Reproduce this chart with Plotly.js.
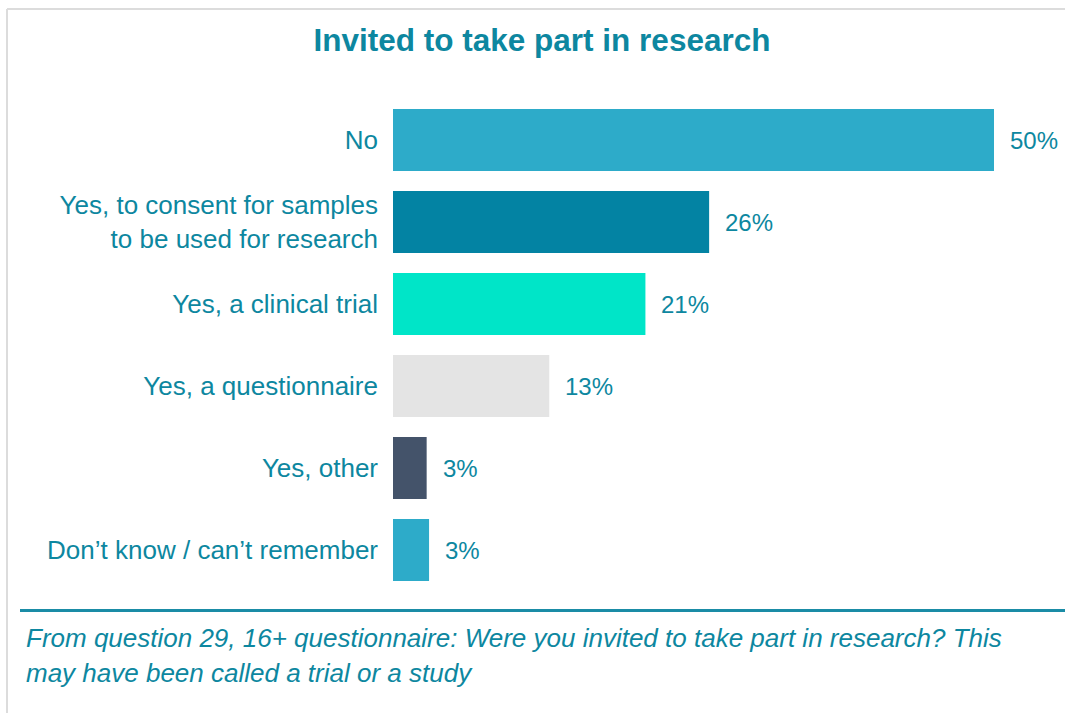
<!DOCTYPE html>
<html>
<head>
<meta charset="utf-8">
<script src="https://cdn.plot.ly/plotly-3.0.1.min.js"></script>
<style>
  html, body { margin: 0; padding: 0; background: #ffffff; }
  #chart { width: 1065px; height: 713px; }
</style>
</head>
<body>
<div id="chart"></div>
<script>
// ---- data ----
const categories = [
  "No",
  "Yes, to consent for samples<br>to be used for research",
  "Yes, a clinical trial",
  "Yes, a questionnaire",
  "Yes, other",
  "Don\u2019t know / can\u2019t remember"
];
const values = [50, 26.3, 21, 13, 2.8, 3];
const valueLabels = ["50%", "26%", "21%", "13%", "3%", "3%"];
const barColors = ["#2DABC9", "#0383A3", "#00E5C8", "#E4E4E4", "#44536A", "#2DABC9"];
const titleText = "Invited to take part in research";
const noteLines = [
  "From question 29, 16+ questionnaire: Were you invited to take part in research? This",
  "may have been called a trial or a study"
];

// ---- layout helpers ----
const W = 1065, H = 713;
const M = { l: 393, r: 0, t: 99, b: 122 };
const pw = W - M.l - M.r, ph = H - M.t - M.b;
const px2x = p => (p - M.l) / pw;
const px2y = p => (H - M.b - p) / ph;

const teal = "#0D87A0";
const font = "Liberation Sans, Arial, sans-serif";

const trace = {
  type: "bar",
  orientation: "h",
  y: categories,
  x: values,
  marker: { color: barColors, line: { width: 0 } },
  hoverinfo: "none"
};

const annotations = values.map((v, i) => ({
  x: v, y: categories[i], xref: "x", yref: "y",
  text: valueLabels[i], showarrow: false,
  xanchor: "left", yanchor: "middle", xshift: 14,
  font: { family: font, size: 24, color: teal }
}));

noteLines.forEach((t, i) => {
  annotations.push({
    x: px2x(24), y: px2y(638 + i * 35), xref: "paper", yref: "paper",
    text: "<i>" + t + "</i>", showarrow: false,
    xanchor: "left", yanchor: "middle",
    font: { family: font, size: 26, color: teal }
  });
});

const shapes = [
  // light grey frame (top & left)
  { type: "line", xref: "paper", yref: "paper", x0: px2x(7), x1: px2x(1070), y0: px2y(9), y1: px2y(9),
    line: { color: "#DCDCDC", width: 2 } },
  { type: "line", xref: "paper", yref: "paper", x0: px2x(7), x1: px2x(7), y0: px2y(9), y1: px2y(720),
    line: { color: "#DCDCDC", width: 2 } },
  // teal separator
  { type: "line", xref: "paper", yref: "paper", x0: px2x(20), x1: px2x(1070), y0: px2y(610.5), y1: px2y(610.5),
    line: { color: "#1A8CA6", width: 3 } }
];

const layout = {
  width: W, height: H,
  margin: M,
  paper_bgcolor: "#ffffff",
  plot_bgcolor: "#ffffff",
  showlegend: false,
  bargap: 0.244,
  title: {
    text: "<b>" + titleText + "</b>",
    xref: "container", yref: "container",
    x: 542 / W, y: 1 - 40 / H, xanchor: "center", yanchor: "middle",
    font: { family: font, size: 31.5, color: teal }
  },
  xaxis: {
    range: [0, pw * 50 / 601],
    visible: false, showgrid: false, zeroline: false, fixedrange: true
  },
  yaxis: {
    autorange: "reversed",
    showgrid: false, zeroline: false, showline: false,
    ticks: "", ticklabelstandoff: 14,
    tickfont: { family: font, size: 26, color: teal },
    fixedrange: true
  },
  annotations: annotations,
  shapes: shapes
};

Plotly.newPlot("chart", [trace], layout, { displayModeBar: false, staticPlot: true });
</script>
</body>
</html>
